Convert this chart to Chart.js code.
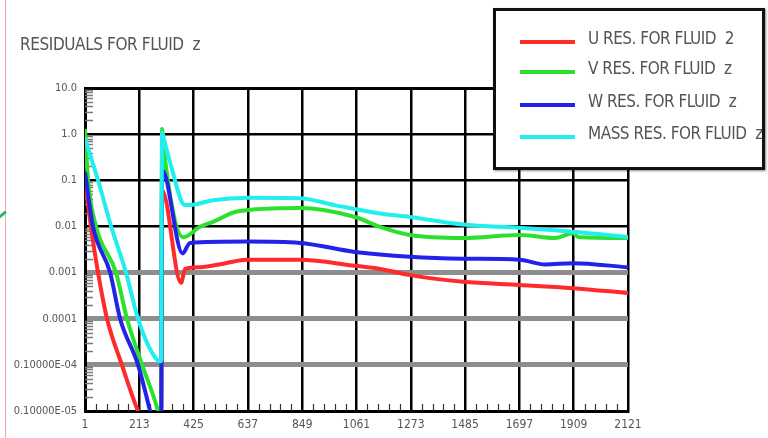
<!DOCTYPE html>
<html>
<head>
<meta charset="utf-8">
<title>Residuals for fluid z</title>
<script src="https://cdn.jsdelivr.net/npm/chart.js@4/dist/chart.umd.min.js"></script>
<style>
  html, body { margin: 0; padding: 0; background: #fff; }
  #wrap { position: relative; width: 768px; height: 438px; overflow: hidden; background: #fff; }
  #plot { position: absolute; left: 0; top: 0; }
  #title {
    position: absolute; left: 20px; top: 34px;
    font: 17px "Liberation Sans Narrow", "Arial Narrow", "DejaVu Sans Condensed", sans-serif;
    color: #555; white-space: pre; letter-spacing: -0.4px;
  }
  #legend {
    position: absolute; left: 493px; top: 8px; width: 266px; height: 156px;
    border: 3px solid #111; background: #fff; overflow: hidden;
    box-shadow: 1px 1px 2px rgba(0,0,0,0.45);
  }
  #legend .swatch { position: absolute; left: 24px; width: 55px; height: 4px; }
  #legend .label {
    position: absolute; left: 92px; white-space: pre; line-height: 20px;
    font: 17px "Liberation Sans Narrow", "Arial Narrow", "DejaVu Sans Condensed", sans-serif;
    color: #555; letter-spacing: -0.5px;
  }
  #edge { position: absolute; left: 5px; top: 0; width: 1px; height: 438px; background: #f4a6a6; }
  #mark { position: absolute; left: -2px; top: 213px; width: 9px; height: 3px; background: #2bb37a; transform: rotate(-40deg); }
</style>
</head>
<body>
<div id="wrap">
  <canvas id="plot" width="768" height="438"></canvas>
  <div id="edge"></div>
  <div id="mark"></div>
  <div id="title"></div>
  <div id="legend"></div>
</div>
<script>
// Chart text
const chartTitle = "RESIDUALS FOR FLUID  z";
const seriesNames = ["U RES. FOR FLUID  2", "V RES. FOR FLUID  z", "W RES. FOR FLUID  z", "MASS RES. FOR FLUID  z"];
const seriesColors = ["#ff2a2a", "#2ee02e", "#2222e8", "#22eeee"];

// Axis ticks
const xTicks = [1, 213, 425, 637, 849, 1061, 1273, 1485, 1697, 1909, 2121];
const yTickValues = [10, 1, 0.1, 0.01, 0.001, 0.0001, 0.00001, 0.000001];
const yTickLabels = ["10.0", "1.0", "0.1", "0.01", "0.001", "0.0001", "0.10000E-04", "0.10000E-05"];
const grayGridValues = [0.001, 0.0001, 0.00001];

// U residuals (iteration, value)
const uIters = [1, 24, 52, 87, 145, 208, 298, 302, 376, 392, 450, 550, 633, 840, 1055, 1153, 1270, 1477, 1699, 1906, 2121];
const uRes   = [0.09, 0.01, 0.001, 0.0001, 0.00001, 0.000001, 0.0000001, 0.06, 0.0006, 0.0012, 0.0013, 0.0016, 0.0019, 0.0019, 0.0014, 0.0012, 0.00088, 0.00063, 0.00054, 0.00046, 0.00036];

// V residuals
const vIters = [1, 13, 44, 122, 165, 224, 286, 298, 302, 310, 385, 450, 501, 594, 840, 1055, 1153, 1270, 1477, 1699, 1836, 1906, 1930, 2121];
const vRes   = [1.3, 0.1, 0.01, 0.001, 0.0001, 0.00001, 0.000001, 0.0000005, 1.3, 0.4, 0.0058, 0.0098, 0.0126, 0.021, 0.025, 0.016, 0.0098, 0.0065, 0.0056, 0.0065, 0.0056, 0.0071, 0.0058, 0.0056];

// W residuals
const wIters = [1, 32, 99, 138, 208, 255, 298, 302, 382, 411, 633, 840, 1055, 1270, 1477, 1699, 1797, 1906, 2121];
const wRes   = [0.15, 0.01, 0.001, 0.0001, 0.00001, 0.000001, 0.0000001, 0.17, 0.0026, 0.0044, 0.0047, 0.0044, 0.0028, 0.0022, 0.002, 0.0019, 0.0015, 0.0016, 0.0013];

// Mass residuals
const mIters = [1, 52, 103, 161, 208, 250, 294, 298, 302, 310, 341, 376, 391, 430, 501, 633, 840, 975, 1153, 1270, 1477, 1699, 1906, 2121];
const mRes   = [0.8, 0.1, 0.01, 0.001, 0.0001, 0.000025, 0.000012, 0.000012, 1.1, 0.74, 0.17, 0.037, 0.029, 0.03, 0.037, 0.042, 0.041, 0.029, 0.019, 0.016, 0.011, 0.0093, 0.0077, 0.0059];

const seriesIters = [uIters, vIters, wIters, mIters];
const seriesVals = [uRes, vRes, wRes, mRes];
// mass drawn on top, then W, V, U
const drawOrder = [3, 2, 1, 0];

const narrow = '"Liberation Sans Narrow", "Arial Narrow", "DejaVu Sans Condensed", sans-serif';

document.getElementById('title').textContent = chartTitle;

// Legend box
const legend = document.getElementById('legend');
const swatchTops = [29, 59, 92, 124];
seriesNames.forEach((name, i) => {
  const sw = document.createElement('div');
  sw.className = 'swatch';
  sw.style.top = swatchTops[i] + 'px';
  sw.style.background = seriesColors[i];
  legend.appendChild(sw);
  const lb = document.createElement('div');
  lb.className = 'label';
  lb.style.top = (swatchTops[i] - 12) + 'px';
  lb.textContent = name;
  legend.appendChild(lb);
});

const isNear = (a, b) => Math.abs(Math.log10(a) - Math.log10(b)) < 1e-6;

// Minor tick marks along the left and bottom edges of the plot
const minorTicks = {
  id: 'minorTicks',
  beforeDatasetsDraw(chart) {
    const { ctx, chartArea: a, scales: { x, y } } = chart;
    ctx.save();
    ctx.strokeStyle = '#7a7a7a';
    ctx.lineWidth = 1.5;
    for (let e = -6; e < 1; e++) {
      for (let m = 2; m < 10; m++) {
        const py = Math.round(y.getPixelForValue(m * Math.pow(10, e))) + 0.5;
        ctx.beginPath();
        ctx.moveTo(a.left, py);
        ctx.lineTo(a.left + 8, py);
        ctx.stroke();
      }
    }
    ctx.strokeStyle = '#333';
    ctx.lineWidth = 1.2;
    for (let i = 0; i < xTicks.length - 1; i++) {
      for (let k = 1; k < 5; k++) {
        const v = xTicks[i] + (xTicks[i + 1] - xTicks[i]) * k / 5;
        const px = Math.round(x.getPixelForValue(v)) + 0.5;
        ctx.beginPath();
        ctx.moveTo(px, a.bottom);
        ctx.lineTo(px, a.bottom - 7);
        ctx.stroke();
      }
    }
    ctx.restore();
  }
};

new Chart(document.getElementById('plot'), {
  type: 'line',
  data: {
    datasets: seriesNames.map((name, i) => ({
      label: name,
      data: seriesIters[i].map((it, j) => ({ x: it, y: seriesVals[i][j] })),
      borderColor: seriesColors[i],
      backgroundColor: seriesColors[i],
      borderWidth: 4,
      pointRadius: 0,
      fill: false,
      order: drawOrder[i],
      cubicInterpolationMode: 'monotone'
    }))
  },
  options: {
    responsive: false,
    animation: false,
    events: [],
    layout: { padding: { left: 0, top: 88, right: 140, bottom: 0 } },
    plugins: { legend: { display: false }, tooltip: { enabled: false }, title: { display: false } },
    scales: {
      x: {
        type: 'linear',
        min: 1,
        max: 2121,
        afterBuildTicks: s => { s.ticks = xTicks.map(v => ({ value: v })); },
        afterFit: s => { s.height = 27; },
        grid: { color: '#000', lineWidth: 2.5, drawTicks: false },
        border: { color: '#000', width: 3 },
        ticks: {
          autoSkip: false, maxRotation: 0, padding: 7,
          color: '#555', font: { family: narrow, size: 12 },
          callback: v => String(v)
        }
      },
      y: {
        type: 'logarithmic',
        min: 0.000001,
        max: 10,
        afterBuildTicks: s => { s.ticks = yTickValues.map(v => ({ value: v })); },
        afterFit: s => { s.width = 85; },
        grid: {
          drawTicks: false,
          color: c => (c.tick && grayGridValues.some(g => isNear(g, c.tick.value))) ? '#8e8e8e' : '#000',
          lineWidth: c => (c.tick && grayGridValues.some(g => isNear(g, c.tick.value))) ? 5 : (c.tick && c.tick.value === 10 ? 3 : 2.5)
        },
        border: { color: '#000', width: 3 },
        ticks: {
          autoSkip: false, padding: 8,
          color: '#555', font: { family: narrow, size: 11 },
          callback: v => {
            const i = yTickValues.findIndex(t => isNear(t, v));
            return i >= 0 ? yTickLabels[i] : '';
          }
        }
      }
    }
  },
  plugins: [minorTicks]
});
</script>
</body>
</html>
